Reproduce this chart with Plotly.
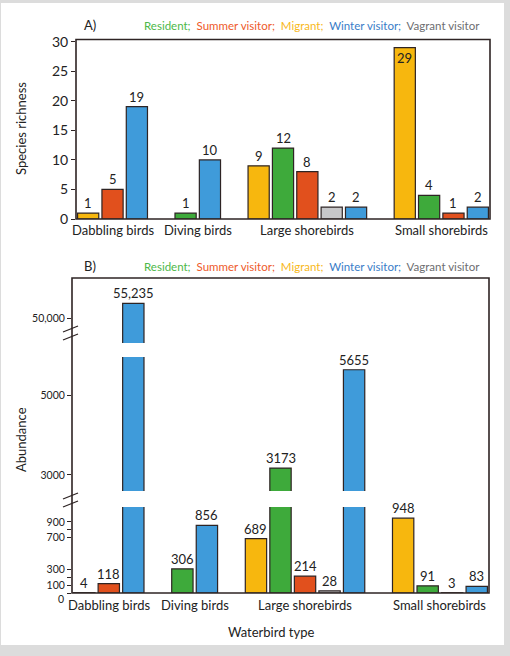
import plotly.graph_objects as go

# ---------------- data ----------------
categories = ["Dabbling birds", "Diving birds", "Large shorebirds", "Small shorebirds"]
statuses = ["Migrant", "Resident", "Summer visitor", "Vagrant visitor", "Winter visitor"]
legend_order = ["Resident", "Summer visitor", "Migrant", "Winter visitor", "Vagrant visitor"]

richness_migrant = [1, None, 9, 29]
richness_resident = [None, 1, 12, 4]
richness_summer = [5, None, 8, 1]
richness_vagrant = [None, None, 2, None]
richness_winter = [19, 10, 2, 2]

abundance_migrant = [4, None, 689, 948]
abundance_resident = [None, 306, 3173, 91]
abundance_summer = [118, None, 214, 3]
abundance_vagrant = [None, None, 28, None]
abundance_winter = [55235, 856, 5655, 83]

richness_ticks = [0, 5, 10, 15, 20, 25, 30]
abund_low_ticks = [0, 100, 200, 300, 700, 800, 900]
abund_low_labels = ["", "100", "", "300", "700", "", "900"]
abund_zero_label = "0"
abund_mid_ticks = [3000, 5000]
abund_mid_labels = ["3000", "5000"]
abund_top_ticks = [50000]
abund_top_labels = ["50,000"]

richness = {"Migrant": richness_migrant, "Resident": richness_resident,
            "Summer visitor": richness_summer, "Vagrant visitor": richness_vagrant,
            "Winter visitor": richness_winter}
abundance = {"Migrant": abundance_migrant, "Resident": abundance_resident,
             "Summer visitor": abundance_summer, "Vagrant visitor": abundance_vagrant,
             "Winter visitor": abundance_winter}

# ---------------- style ----------------
bar_colors = {"Migrant": "#F7B70E", "Resident": "#3EAA3B", "Summer visitor": "#E1501D",
              "Vagrant visitor": "#C7C7C9", "Winter visitor": "#3F9BDA"}
text_colors = {"Resident": "#4DB848", "Summer visitor": "#EE5A2B", "Migrant": "#F8B81B",
               "Winter visitor": "#3A7DC8", "Vagrant visitor": "#6D6E71"}
FONT = "Lato, Liberation Sans, sans-serif"
EDGE = "#2e2424"
W, H = 510, 656
L, R, T, B = 72, 20, 39, 63
PW, PH = W - L - R, H - T - B


def px(x):
    return (x - L) / PW


def py(y):
    return min(1.0, max(0.0, (H - B - y) / PH))


def pyf(y):
    return (H - B - y) / PH


# slot positions (one empty slot between groups)
slots = {s: [None] * len(categories) for s in statuses}
centers = []
k = 0
for ci in range(len(categories)):
    start = k
    for s in statuses:
        if richness[s][ci] is not None:
            slots[s][ci] = k
            k += 1
    centers.append((start + k - 1) / 2)
    k += 1
xr = [-0.5, k - 1 - 0.5]

fig = go.Figure()
annotations = []
bw = 0.87
label_font = dict(family=FONT, size=13, color="#222")

# ---------------- panel A ----------------
ymaxA = 30.45
for s in statuses:
    xs = [slots[s][i] for i in range(4) if richness[s][i] is not None]
    ys = [richness[s][i] for i in range(4) if richness[s][i] is not None]
    fig.add_trace(go.Bar(x=xs, y=ys, width=bw, marker=dict(color=bar_colors[s], line=dict(color=EDGE, width=1.2)),
                         xaxis="x", yaxis="y", showlegend=False, hoverinfo="skip"))
    for x, v in zip(xs, ys):
        inside = v > ymaxA * 0.9
        annotations.append(dict(x=x, y=v, xref="x", yref="y", text=str(v), showarrow=False,
                                yanchor="top" if inside else "bottom", font=label_font))

# ---------------- panel B (broken axis) ----------------
segments = [  # axis, pixel bottom, pixel top, range
    ("y2", 593, 507, [0, 1090]),
    ("y3", 491, 357, [2596, 5976]),
    ("y4", 343, 278, [41380, 64066]),
]


def seg_for(v):
    for ax, _, _, rg in segments:
        if rg[0] <= v <= rg[1]:
            return ax
    return segments[-1][0]


for ax, _, _, _ in segments:
    for s in statuses:
        xs = [slots[s][i] for i in range(4) if abundance[s][i] is not None]
        ys = [abundance[s][i] for i in range(4) if abundance[s][i] is not None]
        fig.add_trace(go.Bar(x=xs, y=ys, width=bw,
                             marker=dict(color=bar_colors[s], line=dict(color=EDGE, width=1.2)),
                             xaxis="x2", yaxis=ax, showlegend=False, hoverinfo="skip"))
for s in statuses:
    for i in range(4):
        v = abundance[s][i]
        if v is None:
            continue
        annotations.append(dict(x=slots[s][i], y=v, xref="x2", yref=seg_for(v),
                                text=f"{v:,}" if v >= 10000 else str(v),
                                showarrow=False, yanchor="bottom", font=label_font))

yax_common = dict(showgrid=False, zeroline=False, showline=False, ticks="outside", ticklen=4,
                  tickcolor=EDGE, tickwidth=1.2, fixedrange=True)
xax_common = dict(ticks="", showgrid=False, zeroline=False, showline=False, showticklabels=False,
                  tickvals=centers, fixedrange=True)
btick = dict(family=FONT, size=10.5, color="#222")

fig.update_layout(
    width=W, height=H, margin=dict(l=L, r=R, t=T, b=B),
    paper_bgcolor="#dcdcdc", plot_bgcolor="rgba(0,0,0,0)",
    barmode="overlay", showlegend=False,
    xaxis=dict(domain=[px(76), 1.0], range=xr, anchor="y", **xax_common),
    yaxis=dict(domain=[py(219), 1.0], range=[0, ymaxA], anchor="x", tickvals=richness_ticks,
               tickfont=dict(family=FONT, size=14, color="#222"), **yax_common),
    xaxis2=dict(domain=[0, px(489)], range=xr, anchor="y2", **xax_common),
    yaxis2=dict(domain=[py(segments[0][1]), py(segments[0][2])], range=segments[0][3], anchor="x2",
                tickvals=abund_low_ticks, ticktext=abund_low_labels, tickfont=btick, **yax_common),
    yaxis3=dict(domain=[py(segments[1][1]), py(segments[1][2])], range=segments[1][3], anchor="x2",
                tickvals=abund_mid_ticks, ticktext=abund_mid_labels, tickfont=btick, **yax_common),
    yaxis4=dict(domain=[py(segments[2][1]), py(segments[2][2])], range=segments[2][3], anchor="x2",
                tickvals=abund_top_ticks, ticktext=abund_top_labels, tickfont=btick, **yax_common),
)

# zero label of the lower abundance axis, nudged just below the axis like the original
annotations.append(dict(x=px(66), y=pyf(599), xref="paper", yref="paper", text=abund_zero_label,
                        showarrow=False, xanchor="right", yanchor="middle", font=btick))

# category labels under each panel
for xref, ypix in (("x", 230), ("x2", 605)):
    for c, name in zip(centers, categories):
        annotations.append(dict(x=c, y=pyf(ypix), xref=xref, yref="paper", text=name, showarrow=False,
                                xanchor="center", yanchor="middle",
                                font=dict(family=FONT, size=13, color="#222")))

shapes = [
    # white card
    dict(type="rect", xref="paper", yref="paper", x0=px(1), x1=px(504), y0=pyf(645), y1=pyf(3),
         fillcolor="white", line=dict(width=0), layer="below"),
    # panel boxes
    dict(type="rect", xref="paper", yref="paper", x0=px(76), x1=px(490), y0=py(219), y1=py(39.5),
         line=dict(color=EDGE, width=1.6), layer="above"),
    dict(type="rect", xref="paper", yref="paper", x0=px(72), x1=px(489), y0=py(593), y1=py(278),
         line=dict(color=EDGE, width=1.6), layer="above"),
]
# axis break marks
for yc in (333, 500):
    for dy in (-4, 4):
        shapes.append(dict(type="line", xref="paper", yref="paper",
                           x0=px(63), x1=px(78), y0=pyf(yc + dy + 3), y1=pyf(yc + dy - 3),
                           line=dict(color=EDGE, width=1.3)))

# legend-like coloured texts and panel letters
legend_html = "&nbsp;&nbsp;".join(
    f'<span style="color:{text_colors[n]}">{n}{";" if n != legend_order[-1] else ""}</span>'
    for n in legend_order)
for ypix, letter in ((25, "A)"), (266, "B)")):
    annotations.append(dict(x=px(82), y=pyf(ypix), xref="paper", yref="paper", text=letter, showarrow=False,
                            xanchor="left", yanchor="middle", font=dict(family=FONT, size=13, color="#222")))
    annotations.append(dict(x=px(482), y=pyf(ypix), xref="paper", yref="paper", text=legend_html,
                            showarrow=False, xanchor="right", yanchor="middle",
                            font=dict(family=FONT, size=11.5, color="#222")))

# axis titles
annotations.append(dict(x=px(21), y=pyf(129), xref="paper", yref="paper", text="Species richness", textangle=-90,
                        xanchor="center", yanchor="middle",
                        showarrow=False, font=dict(family=FONT, size=13, color="#222")))
annotations.append(dict(x=px(21), y=pyf(440), xref="paper", yref="paper", text="Abundance", textangle=-90,
                        xanchor="center", yanchor="middle",
                        showarrow=False, font=dict(family=FONT, size=13, color="#222")))
annotations.append(dict(x=px(271), y=pyf(632), xref="paper", yref="paper", text="Waterbird type",
                        xanchor="center", yanchor="middle",
                        showarrow=False, font=dict(family=FONT, size=13, color="#222")))

fig.update_layout(shapes=shapes, annotations=annotations)
fig.write_html("out.html", config={"displayModeBar": False},
               post_script="document.body.style.margin='0';")
